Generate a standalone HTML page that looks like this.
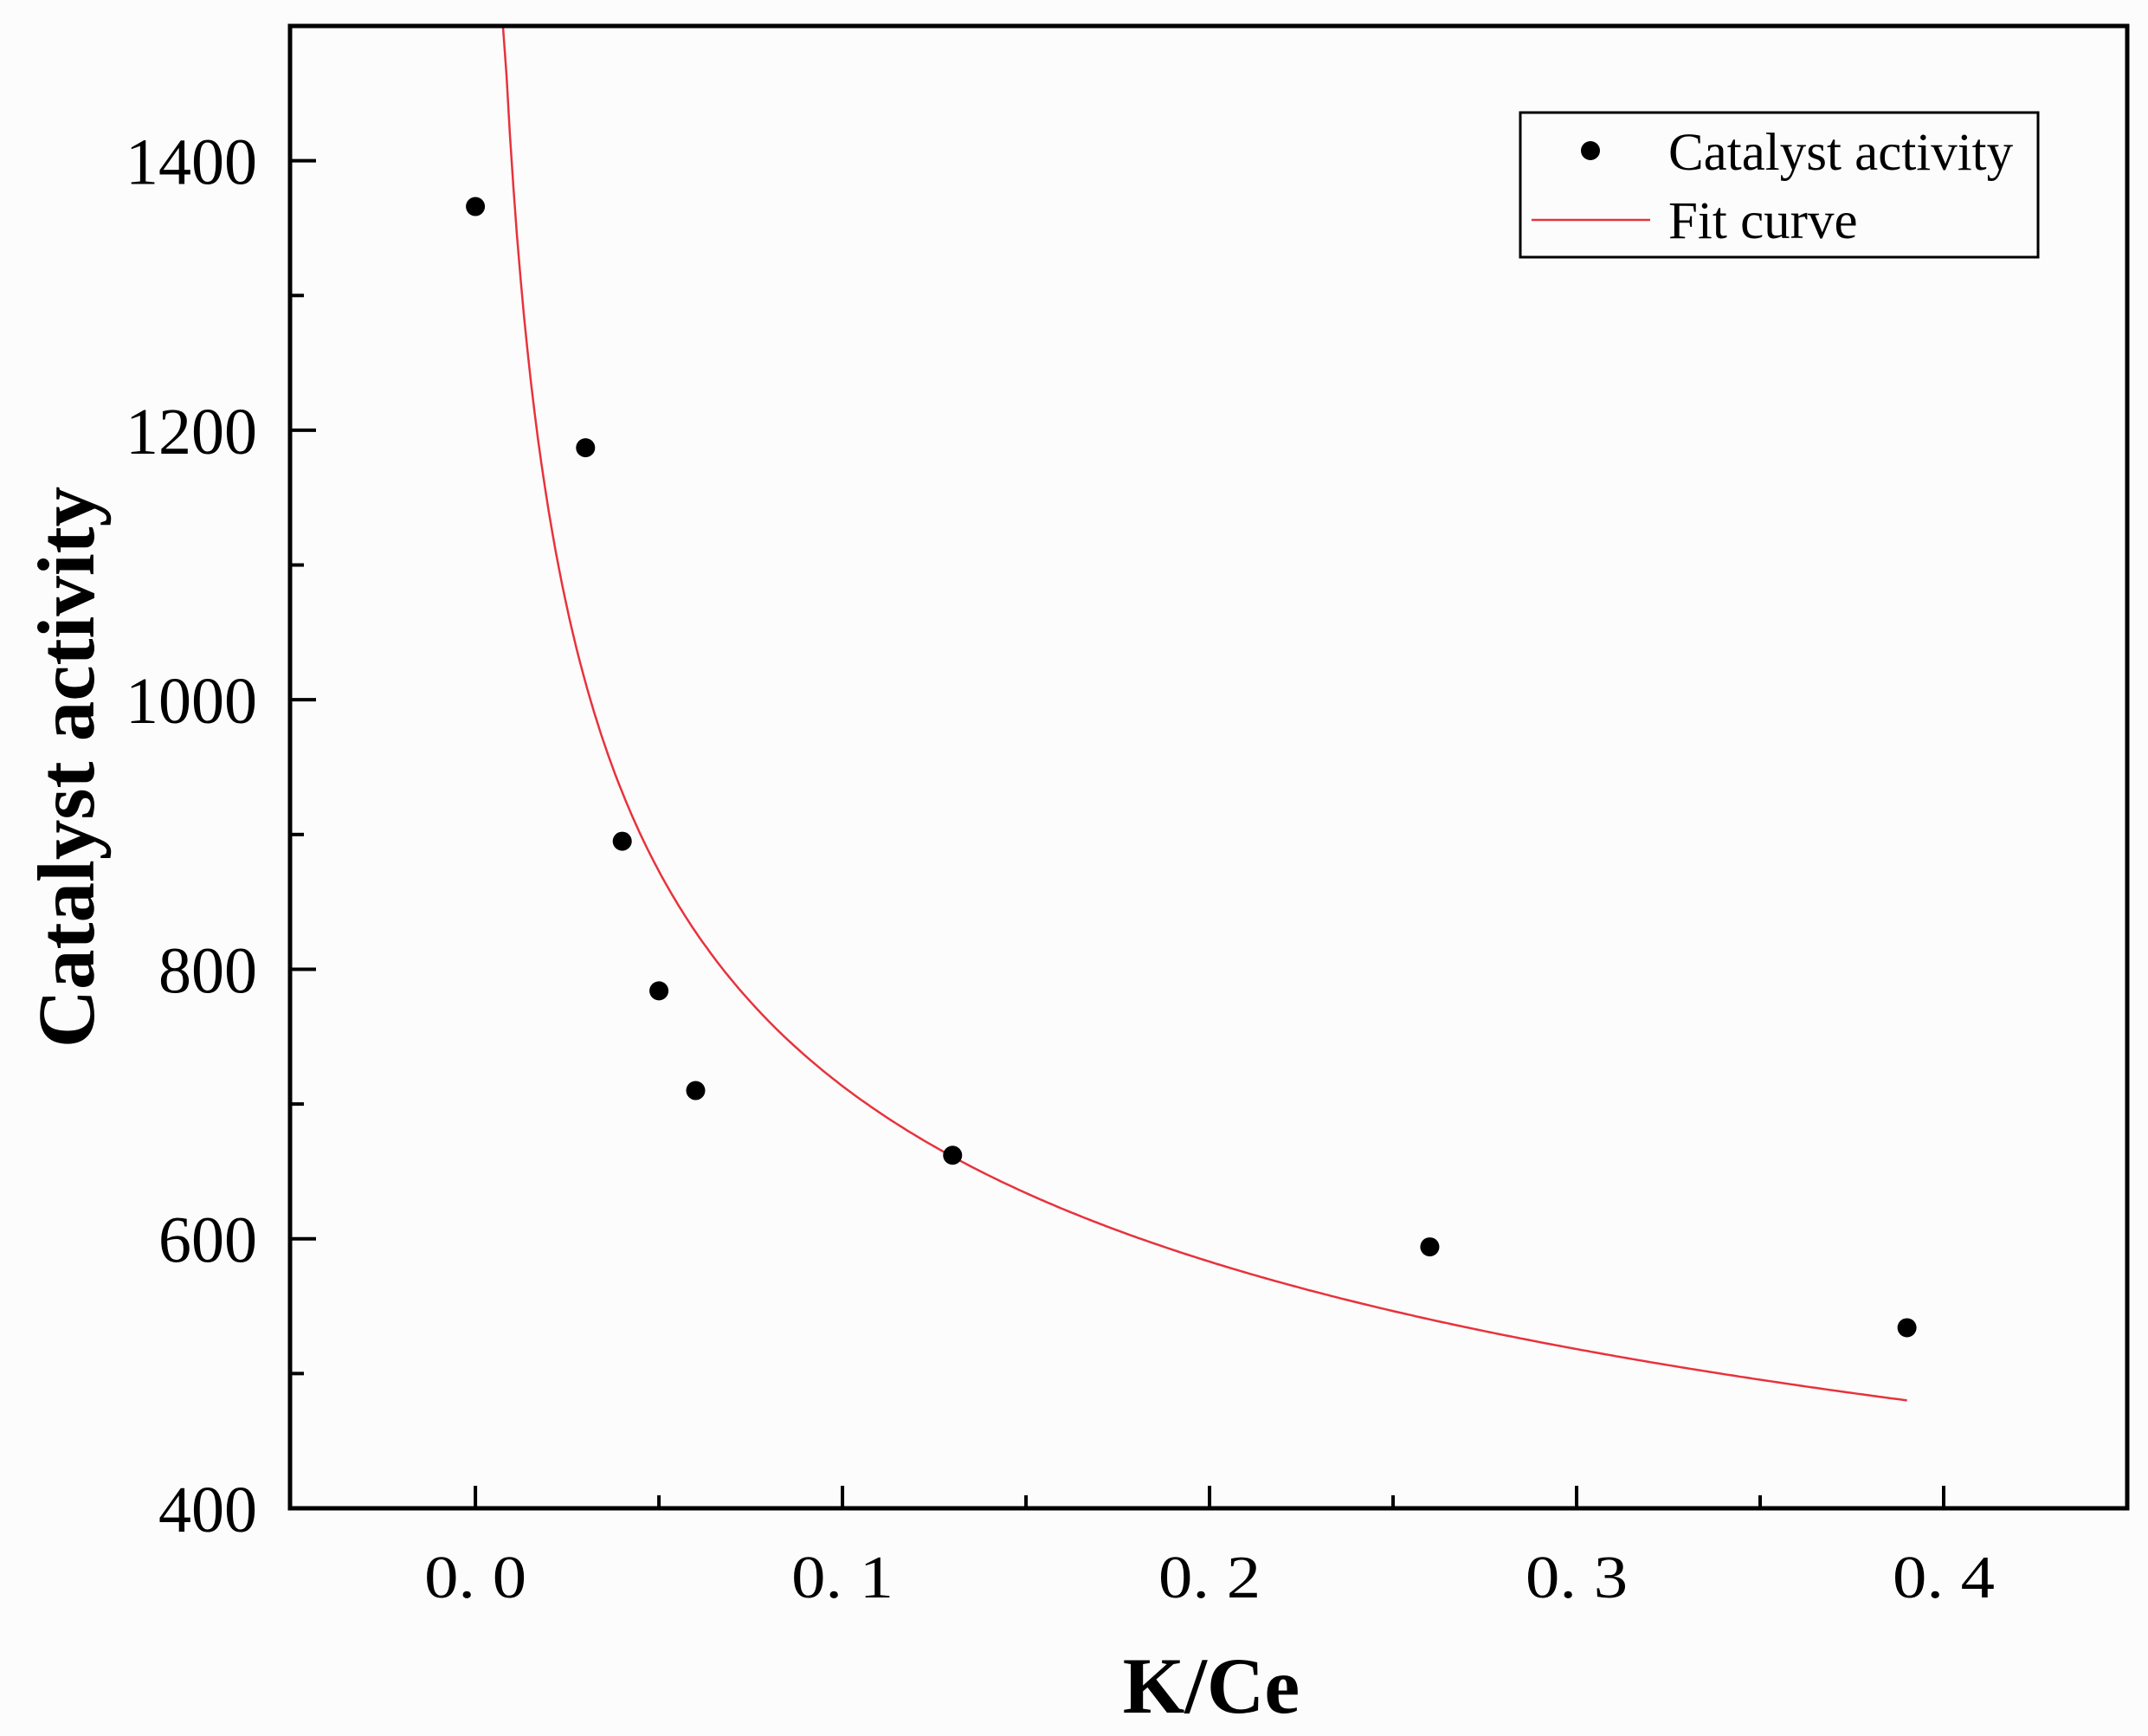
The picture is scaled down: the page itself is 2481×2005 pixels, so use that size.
<!DOCTYPE html>
<html><head><meta charset="utf-8"><style>
body{margin:0;background:#fcfcfc;}
svg{display:block;font-family:"Liberation Serif",serif;}
</style></head><body>
<svg id="chart" width="2481" height="2005" viewBox="0 0 2481 2005">
<rect width="2481" height="2005" fill="#fcfcfc"/>
<g id="marks"></g>
<g id="axes"></g>
<g>
<rect x="1756" y="130" width="598" height="167" fill="none" stroke="#000" stroke-width="3"/>
<circle cx="1837" cy="174" r="11" fill="#000"/>
<text x="1927" y="196" font-size="61">Catalyst activity</text>
<line x1="1769" y1="254" x2="1906" y2="254" stroke="#e8323c" stroke-width="2.5"/>
<text x="1927" y="275" font-size="61">Fit curve</text>
</g>
<text x="1399" y="1978" font-size="92" font-weight="bold" text-anchor="middle">K/Ce</text>
<text transform="translate(108,886) rotate(-90)" font-size="93" font-weight="bold" text-anchor="middle">Catalyst activity</text>
</svg>
<script>
const kce = [0, 0.03, 0.04, 0.05, 0.06, 0.13, 0.26, 0.39];
const activity = [1366, 1187, 895, 784, 710, 662, 594, 534];
const xTicks = [0, 0.1, 0.2, 0.3, 0.4];
const xTickLabels = ["0. 0", "0. 1", "0. 2", "0. 3", "0. 4"];
const yTicks = [400, 600, 800, 1000, 1200, 1400];
const yTickLabels = ["400", "600", "800", "1000", "1200", "1400"];
const fitA = 365, fitB = -0.291, fitStart = 0.0075, fitEnd = 0.39;

const L=335,R=2457,T=30,B=1742, X0=-0.0505,X1=0.45, Y0=400,Y1=1500;
const sx=v=>L+(v-X0)/(X1-X0)*(R-L);
const sy=v=>B-(v-Y0)/(Y1-Y0)*(B-T);
const NS="http://www.w3.org/2000/svg";
function mk(tag,attrs,parent){const e=document.createElementNS(NS,tag);for(const k in attrs)e.setAttribute(k,attrs[k]);parent.appendChild(e);return e;}
const axes=document.getElementById('axes'), marks=document.getElementById('marks');

let d="";
for(let i=0;i<=400;i++){const x=fitStart+(fitEnd-fitStart)*i/400;let y=fitA*Math.pow(x,fitB);y=Math.min(y,Y1);d+=(i?"L":"M")+sx(x).toFixed(1)+","+sy(y).toFixed(1);}
const fit=mk('path',{d:d,fill:"none",stroke:"#e8323c","stroke-width":2.5},marks);



kce.forEach((x,i)=>{
  const c=mk('circle',{cx:sx(x),cy:sy(activity[i]),r:11,fill:"#000"},marks);
  
  
});

const frame=mk('rect',{x:L,y:T,width:R-L,height:B-T,fill:"none",stroke:"#000","stroke-width":5},axes);



xTicks.forEach((v,i)=>{
  const t=mk('line',{x1:sx(v),x2:sx(v),y1:B,y2:B-26,stroke:"#000","stroke-width":4},axes);
  
  
  const m=mk('line',{x1:sx(v+0.05),x2:sx(v+0.05),y1:B,y2:B-15,stroke:"#000","stroke-width":4},axes);
  
  
  const lb=mk('text',{x:sx(v),y:1845,"font-size":70,"text-anchor":"middle",textLength:118,lengthAdjust:"spacingAndGlyphs"},axes);
  lb.textContent=xTickLabels[i];
  
  
});
yTicks.forEach((v,i)=>{
  const t=mk('line',{x1:L,x2:L+30,y1:sy(v),y2:sy(v),stroke:"#000","stroke-width":4},axes);
  
  
  if(v+100<Y1){
    const m=mk('line',{x1:L,x2:L+16,y1:sy(v+100),y2:sy(v+100),stroke:"#000","stroke-width":4},axes);
    
    
  }
  const lb=mk('text',{x:297,y:sy(v)+27,"font-size":76,"text-anchor":"end"},axes);
  lb.textContent=yTickLabels[i];
  
  
});
</script>
</body></html>
